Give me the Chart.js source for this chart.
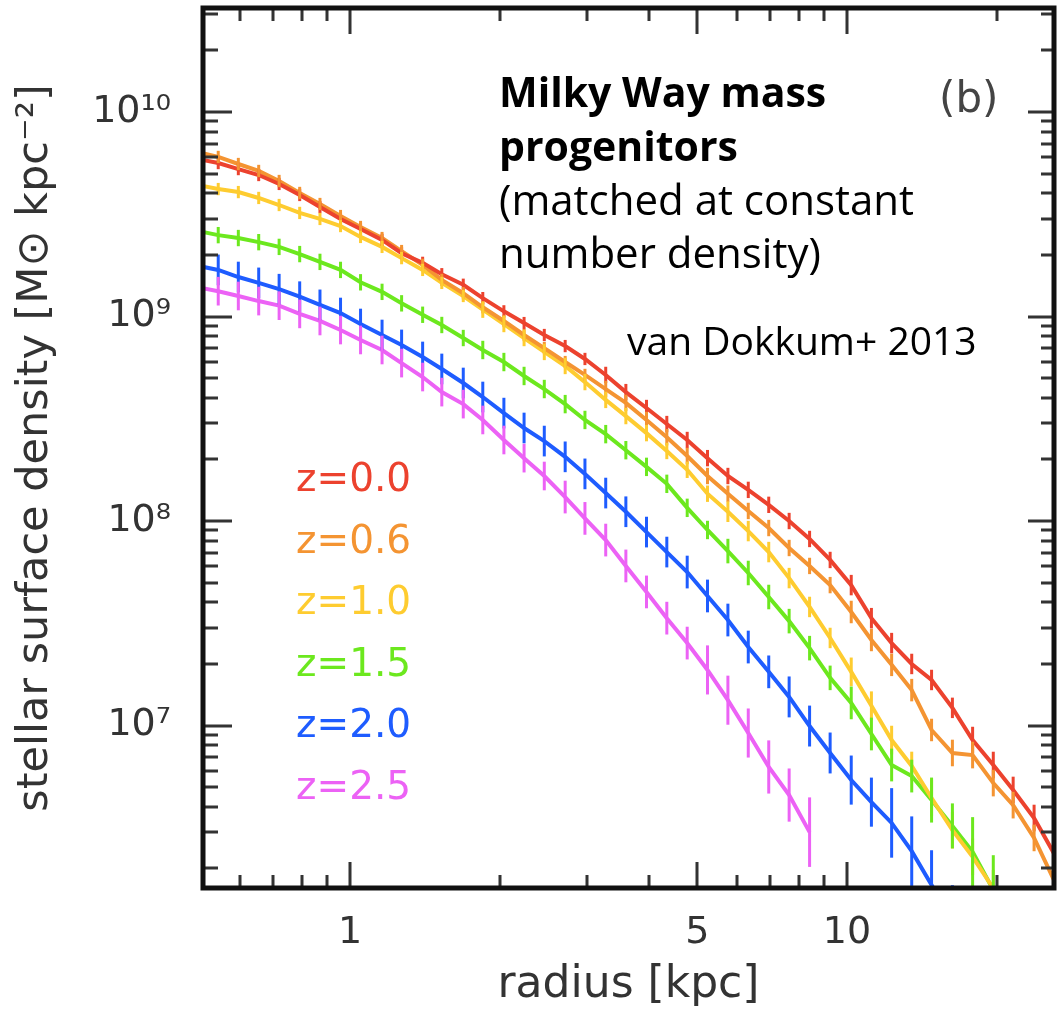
<!DOCTYPE html>
<html>
<head>
<meta charset="utf-8">
<script src="https://cdn.jsdelivr.net/npm/chart.js@4.4.1/dist/chart.umd.min.js"></script>
<style>
  html, body { margin: 0; padding: 0; background: #fff; }
</style>
</head>
<body>
<canvas id="profiles" width="1058" height="1015"></canvas>
<script>
// radial bins [kpc]
const radii = [0.494, 0.543, 0.596, 0.655, 0.720, 0.792, 0.870, 0.957, 1.05, 1.16, 1.27, 1.40, 1.53, 1.69, 1.85,
  2.04, 2.24, 2.46, 2.71, 2.97, 3.27, 3.59, 3.95, 4.34, 4.77, 5.24, 5.76, 6.33, 6.96, 7.65, 8.41, 9.25,
  10.2, 11.2, 12.3, 13.5, 14.8, 16.3, 17.9, 19.7, 21.6, 23.8, 26.2, 28.7];

const seriesNames = ['z=0.0', 'z=0.6', 'z=1.0', 'z=1.5', 'z=2.0', 'z=2.5'];
const seriesColors = ['rgb(236,66,46)', 'rgb(244,148,50)', 'rgb(254,204,48)', 'rgb(108,232,30)', 'rgb(30,92,255)', 'rgb(236,98,245)'];

// stellar surface density [Msun kpc^-2]
const sigmaZ00 = [5.89e9, 5.63e9, 5.26e9, 4.92e9, 4.45e9, 3.93e9, 3.43e9, 3.00e9, 2.68e9, 2.37e9, 2.04e9, 1.83e9, 1.61e9, 1.43e9, 1.23e9,
  1.06e9, 9.29e8, 8.12e8, 7.17e8, 6.20e8, 5.18e8, 4.27e8, 3.57e8, 2.98e8, 2.49e8, 2.03e8, 1.66e8, 1.42e8, 1.20e8, 1.00e8, 8.17e7,
  6.45e7, 4.86e7, 3.35e7, 2.53e7, 2.00e7, 1.67e7, 1.22e7, 8.49e6, 6.41e6, 4.84e6, 3.53e6, 2.33e6, 1.66e6];
const sigmaZ06 = [6.37e9, 6.03e9, 5.57e9, 5.15e9, 4.60e9, 4.02e9, 3.55e9, 3.10e9, 2.74e9, 2.42e9, 2.09e9, 1.79e9, 1.51e9, 1.30e9, 1.11e9,
  9.51e8, 8.12e8, 7.01e8, 5.99e8, 5.18e8, 4.42e8, 3.78e8, 3.12e8, 2.57e8, 2.08e8, 1.66e8, 1.36e8, 1.12e8, 9.24e7, 7.38e7, 6.03e7,
  4.86e7, 3.59e7, 2.62e7, 1.98e7, 1.49e7, 9.51e6, 7.34e6, 7.17e6, 5.23e6, 4.08e6, 2.82e6, 1.72e6, 1.06e6];
const sigmaZ10 = [4.40e9, 4.20e9, 4.06e9, 3.80e9, 3.51e9, 3.21e9, 3.00e9, 2.77e9, 2.45e9, 2.19e9, 1.93e9, 1.69e9, 1.46e9, 1.26e9, 1.08e9,
  9.19e8, 7.85e8, 6.71e8, 5.73e8, 4.78e8, 3.91e8, 3.26e8, 2.69e8, 2.20e8, 1.78e8, 1.36e8, 1.11e8, 8.93e7, 7.05e7, 5.26e7, 3.80e7,
  2.68e7, 1.83e7, 1.25e7, 8.49e6, 6.34e6, 4.42e6, 3.08e6, 2.28e6, 1.60e6, 1.12e6];
const sigmaZ15 = [2.62e9, 2.50e9, 2.42e9, 2.31e9, 2.19e9, 2.02e9, 1.85e9, 1.69e9, 1.47e9, 1.32e9, 1.16e9, 1.02e9, 9.09e8, 7.85e8, 6.86e8,
  5.99e8, 5.12e8, 4.42e8, 3.73e8, 3.12e8, 2.66e8, 2.22e8, 1.84e8, 1.52e8, 1.16e8, 9.04e7, 7.13e7, 5.57e7, 4.25e7, 3.24e7, 2.39e7,
  1.71e7, 1.29e7, 9.09e6, 6.41e6, 5.66e6, 4.32e6, 3.23e6, 2.41e6, 1.57e6, 1.00e6];
const sigmaZ20 = [1.77e9, 1.69e9, 1.56e9, 1.46e9, 1.36e9, 1.25e9, 1.14e9, 1.04e9, 9.19e8, 8.12e8, 7.26e8, 6.34e8, 5.54e8, 4.73e8, 4.04e8,
  3.37e8, 2.85e8, 2.46e8, 2.06e8, 1.70e8, 1.37e8, 1.11e8, 8.83e7, 7.05e7, 5.63e7, 4.30e7, 3.28e7, 2.42e7, 1.83e7, 1.38e7, 9.94e6,
  7.34e6, 5.41e6, 4.22e6, 3.34e6, 2.43e6, 1.66e6, 1.12e6];
const sigmaZ25 = [1.39e9, 1.33e9, 1.26e9, 1.19e9, 1.13e9, 1.03e9, 9.51e8, 8.59e8, 7.68e8, 6.86e8, 5.92e8, 5.06e8, 4.27e8, 3.73e8, 3.12e8,
  2.49e8, 2.03e8, 1.66e8, 1.31e8, 1.03e8, 8.07e7, 6.03e7, 4.50e7, 3.35e7, 2.53e7, 1.87e7, 1.33e7, 9.19e6, 6.27e6, 4.57e6, 3.01e6];

// half-length of the error bars, in dex
const errZ00 = [0.03, 0.03, 0.03, 0.03, 0.03, 0.03, 0.03, 0.03, 0.03, 0.03, 0.03, 0.03, 0.03, 0.03, 0.03, 0.03, 0.03, 0.03, 0.03, 0.03,
  0.04, 0.04, 0.04, 0.04, 0.04, 0.04, 0.04, 0.04, 0.04, 0.04, 0.04, 0.04, 0.05, 0.05, 0.05, 0.05, 0.05, 0.05,
  0.065, 0.065, 0.065, 0.065, 0.065, 0.065];
const errZ06 = [0.03, 0.03, 0.03, 0.03, 0.03, 0.03, 0.03, 0.03, 0.03, 0.03, 0.03, 0.03, 0.03, 0.03, 0.03, 0.03, 0.03, 0.03, 0.03, 0.03,
  0.04, 0.04, 0.04, 0.04, 0.04, 0.04, 0.04, 0.04, 0.04, 0.04, 0.04, 0.04, 0.055, 0.055, 0.055, 0.055, 0.055,
  0.065, 0.065, 0.065, 0.065, 0.065, 0.065, 0.065];
const errZ10 = [0.03, 0.03, 0.03, 0.03, 0.03, 0.03, 0.03, 0.03, 0.03, 0.03, 0.03, 0.03, 0.03, 0.03,
  0.04, 0.04, 0.04, 0.04, 0.04, 0.04, 0.04, 0.04, 0.04, 0.04, 0.04, 0.04, 0.05, 0.05, 0.05, 0.05, 0.05, 0.05,
  0.07, 0.07, 0.07, 0.07, 0.09, 0.09, 0.09, 0.09, 0.09];
const errZ15 = [0.04, 0.04, 0.04, 0.04, 0.04, 0.04, 0.04, 0.04, 0.04, 0.04, 0.04, 0.04, 0.04, 0.04,
  0.045, 0.045, 0.045, 0.045, 0.045, 0.045, 0.045, 0.045, 0.045, 0.045, 0.045, 0.045, 0.06, 0.06, 0.06, 0.06, 0.06, 0.06,
  0.08, 0.08, 0.08, 0.08, 0.11, 0.11, 0.17, 0.17, 0.17];
const errZ20 = [0.075, 0.075, 0.075, 0.075, 0.075, 0.075, 0.075, 0.075, 0.075, 0.075, 0.075, 0.075, 0.075, 0.075, 0.075, 0.075,
  0.075, 0.075, 0.075, 0.075, 0.075, 0.075, 0.075, 0.075, 0.08, 0.08, 0.08, 0.08, 0.08, 0.1, 0.1, 0.1, 0.12, 0.12,
  0.17, 0.17, 0.17, 0.17];
const errZ25 = [0.07, 0.07, 0.07, 0.07, 0.07, 0.07, 0.07, 0.07, 0.07, 0.07, 0.07, 0.07, 0.07, 0.07, 0.07, 0.07, 0.07, 0.07,
  0.08, 0.08, 0.08, 0.08, 0.08, 0.08, 0.08, 0.12, 0.12, 0.12, 0.13, 0.13, 0.17];

const seriesValues = [sigmaZ00, sigmaZ06, sigmaZ10, sigmaZ15, sigmaZ20, sigmaZ25];
const seriesErrors = [errZ00, errZ06, errZ10, errZ15, errZ20, errZ25];

// axis ticks
const xTickValues = [0.6, 0.7, 0.8, 0.9, 1, 2, 3, 4, 5, 6, 7, 8, 9, 10, 20];
const xMajorTicks = [1, 5, 10];
const xTickLabels = ['1', '5', '10'];
const yDecades = [1e6, 1e7, 1e8, 1e9, 1e10];
const yMantissas = [1, 2, 3, 4, 5, 6, 7, 8, 9];
const yLabelValues = [1e7, 1e8, 1e9, 1e10];
const yTickLabels = ['10\u2077', '10\u2078', '10\u2079', '10\u00b9\u2070'];

const yTickValues = [];
yDecades.forEach(d => yMantissas.forEach(m => yTickValues.push(m * d)));

const AXIS_FONT = 'DejaVu Sans';
const AXIS_COLOR = '#333';

const datasets = seriesNames.map((name, i) => ({
  label: name,
  data: seriesValues[i].map((v, j) => ({ x: radii[j], y: v })),
  borderColor: seriesColors[i],
  backgroundColor: seriesColors[i],
  borderWidth: 4,
  pointRadius: 0,
  tension: 0,
  clip: 0,
}));

const errorBars = {
  id: 'errorBars',
  afterDatasetsDraw(chart) {
    const { ctx, chartArea: a, scales: { x, y } } = chart;
    ctx.save();
    ctx.beginPath();
    ctx.rect(a.left, a.top, a.right - a.left, a.bottom - a.top);
    ctx.clip();
    ctx.lineWidth = 3;
    chart.data.datasets.forEach((ds, i) => {
      ctx.strokeStyle = seriesColors[i];
      ds.data.forEach((p, j) => {
        const f = Math.pow(10, seriesErrors[i][j]);
        const px = x.getPixelForValue(p.x);
        ctx.beginPath();
        ctx.moveTo(px, y.getPixelForValue(p.y / f));
        ctx.lineTo(px, y.getPixelForValue(p.y * f));
        ctx.stroke();
      });
    });
    ctx.restore();
  }
};

const frameAndText = {
  id: 'frameAndText',
  afterDraw(chart) {
    const { ctx, chartArea: a, scales: { x, y } } = chart;
    ctx.save();
    // inward ticks on all four sides
    ctx.strokeStyle = '#333';
    ctx.lineWidth = 3;
    xTickValues.forEach(v => {
      const px = Math.round(x.getPixelForValue(v));
      const len = xMajorTicks.includes(v) ? 26 : 13;
      ctx.beginPath();
      ctx.moveTo(px, a.bottom); ctx.lineTo(px, a.bottom - len);
      ctx.moveTo(px, a.top); ctx.lineTo(px, a.top + len);
      ctx.stroke();
    });
    yTickValues.forEach(v => {
      if (v < y.min || v > y.max) return;
      const py = Math.round(y.getPixelForValue(v));
      const major = yLabelValues.includes(v) || v === 1e10;
      ctx.beginPath();
      ctx.moveTo(a.left, py); ctx.lineTo(a.left + (major ? 29 : 15), py);
      ctx.moveTo(a.right, py); ctx.lineTo(a.right - (major ? 26 : 13), py);
      ctx.stroke();
    });
    // frame
    ctx.strokeStyle = '#111';
    ctx.lineWidth = 5;
    ctx.strokeRect(a.left, a.top, a.right - a.left, a.bottom - a.top);

    // redshift labels
    ctx.textBaseline = 'alphabetic';
    ctx.textAlign = 'left';
    ctx.font = '39px "DejaVu Sans"';
    seriesNames.forEach((name, i) => {
      ctx.fillStyle = seriesColors[i];
      ctx.fillText(name, 296, 491 + i * 61.5);
    });

    // annotation
    ctx.fillStyle = '#000';
    ctx.font = 'bold 41px "Open Sans"';
    ctx.fillText('Milky Way mass', 499, 107);
    ctx.fillText('progenitors', 499, 161);
    ctx.font = '42px "Open Sans"';
    ctx.fillText('(matched at constant', 499, 215);
    ctx.fillText('number density)', 499, 268);
    ctx.font = '39px "Open Sans"';
    ctx.fillText('van Dokkum+ 2013', 627, 355);
    ctx.fillStyle = '#444';
    ctx.font = '42px "DejaVu Sans"';
    ctx.fillText('(b)', 939, 112);
    ctx.restore();
  }
};

new Chart(document.getElementById('profiles').getContext('2d'), {
  type: 'line',
  data: { datasets },
  options: {
    responsive: false,
    animation: false,
    events: [],
    layout: { autoPadding: false, padding: { top: 8, right: 4, left: 0, bottom: 0 } },
    plugins: { legend: { display: false }, tooltip: { enabled: false } },
    scales: {
      x: {
        type: 'logarithmic',
        min: 0.506,
        max: 26.1,
        grid: { display: false },
        border: { display: false },
        afterBuildTicks: s => { s.ticks = xTickValues.map(v => ({ value: v })); },
        afterFit: s => { s.height = 127; s.paddingLeft = 0; s.paddingRight = 0; },
        ticks: {
          autoSkip: false,
          maxRotation: 0,
          padding: 14,
          color: AXIS_COLOR,
          font: { family: AXIS_FONT, size: 38 },
          callback: v => {
            const k = xMajorTicks.indexOf(v);
            return k >= 0 ? xTickLabels[k] : '';
          }
        },
        title: {
          display: true,
          text: 'radius [kpc]',
          color: AXIS_COLOR,
          font: { family: AXIS_FONT, size: 44 },
          padding: { top: 0, bottom: 3 }
        }
      },
      y: {
        type: 'logarithmic',
        min: 1.605e6,
        max: 3.226e10,
        grid: { display: false },
        border: { display: false },
        afterBuildTicks: s => { s.ticks = yTickValues.filter(v => v >= 1.605e6 && v <= 3.226e10).map(v => ({ value: v })); },
        afterFit: s => { s.width = 203; s.paddingTop = 0; s.paddingBottom = 0; },
        ticks: {
          autoSkip: false,
          padding: 24,
          color: AXIS_COLOR,
          font: { family: AXIS_FONT, size: 38 },
          callback: v => {
            const k = yLabelValues.indexOf(v);
            return k >= 0 ? yTickLabels[k] : '';
          }
        },
        title: {
          display: true,
          text: 'stellar surface density [M\u2299 kpc\u207b\u00b2]',
          color: AXIS_COLOR,
          font: { family: AXIS_FONT, size: 43 },
          padding: { top: 10, bottom: 0 }
        }
      }
    }
  },
  plugins: [errorBars, frameAndText]
});
</script>
</body>
</html>
